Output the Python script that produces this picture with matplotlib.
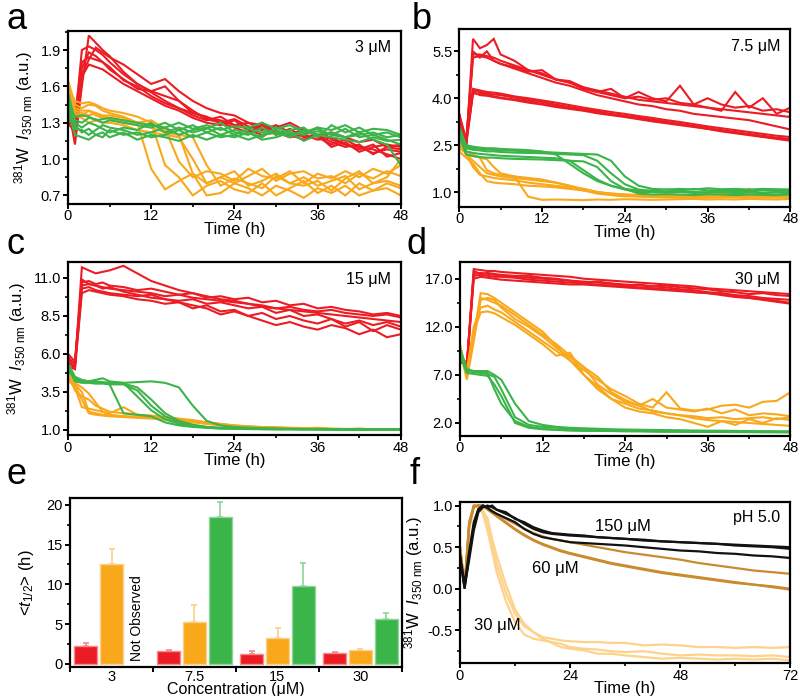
import matplotlib
matplotlib.use("Agg")
import matplotlib.pyplot as plt
from matplotlib.ticker import MultipleLocator, AutoMinorLocator, FixedLocator
import numpy as np

plt.rcParams['font.family'] = ['Liberation Sans', 'DejaVu Sans']
plt.rcParams['mathtext.fontset'] = 'custom'
plt.rcParams['mathtext.rm'] = 'Liberation Sans'
plt.rcParams['mathtext.it'] = 'Liberation Sans:italic'

RED = '#ec1c24'
ORANGE = '#f9a81b'
GREEN = '#3bb44a'

# time grid (h) for panels a-d
T = [0, 1, 2, 3, 4, 5, 6, 8, 10, 12, 14, 16, 18, 20, 22, 24, 26, 28, 30, 32, 34, 36, 38, 40, 42, 44, 46, 48]

# ---- panel a, 3 uM ----
a_red = [
    [1.45,1.12,1.60,2.02,1.96,1.90,1.85,1.72,1.62,1.55,1.48,1.42,1.36,1.32,1.35,1.28,1.25,1.30,1.22,1.20,1.25,1.18,1.12,1.16,1.10,1.08,1.04,1.00],
    [1.40,1.30,1.90,1.93,1.90,1.86,1.80,1.70,1.62,1.56,1.52,1.48,1.40,1.33,1.30,1.33,1.27,1.24,1.28,1.22,1.20,1.16,1.18,1.12,1.10,1.05,1.08,1.06],
    [1.35,1.25,1.75,1.88,1.85,1.80,1.74,1.66,1.58,1.56,1.60,1.48,1.38,1.35,1.30,1.26,1.22,1.28,1.20,1.25,1.18,1.20,1.14,1.10,1.12,1.04,1.10,1.08],
    [1.30,1.22,1.68,1.78,1.76,1.74,1.70,1.62,1.56,1.50,1.44,1.40,1.34,1.30,1.28,1.32,1.24,1.20,1.22,1.18,1.20,1.26,1.16,1.12,1.08,1.12,1.02,1.05],
    [1.28,1.35,1.80,1.84,1.82,1.80,1.76,1.65,1.60,1.52,1.46,1.42,1.38,1.34,1.32,1.28,1.30,1.25,1.22,1.20,1.16,1.20,1.10,1.14,1.06,1.10,1.12,1.10],
    [1.38,1.28,1.70,1.82,1.92,1.88,1.84,1.78,1.70,1.62,1.66,1.56,1.48,1.42,1.38,1.36,1.30,1.28,1.26,1.30,1.24,1.20,1.22,1.18,1.14,1.16,1.10,1.12],
]
a_orange = [
    [1.65,1.45,1.42,1.45,1.44,1.40,1.38,1.35,1.30,0.92,0.75,0.82,0.88,0.80,0.85,0.90,0.78,0.82,0.88,0.80,0.85,0.78,0.82,0.86,0.75,0.80,0.82,0.78],
    [1.60,1.48,1.46,1.47,1.45,1.42,1.40,1.38,1.35,1.30,0.95,0.85,0.70,0.78,0.82,0.75,0.72,0.80,0.70,0.76,0.82,0.72,0.78,0.70,0.80,0.74,0.76,0.70],
    [1.58,1.40,1.38,1.36,1.38,1.35,1.34,1.32,1.30,1.28,1.25,0.98,0.85,0.90,0.88,0.82,0.92,0.86,0.84,0.90,0.80,0.88,0.84,0.90,0.85,0.92,0.88,0.95],
    [1.55,1.42,1.40,1.40,1.36,1.34,1.33,1.30,1.28,1.26,1.22,1.20,0.88,0.70,0.72,0.80,0.76,0.70,0.78,0.74,0.68,0.76,0.72,0.78,0.70,0.74,0.80,0.76],
    [1.62,1.36,1.34,1.30,1.32,1.30,1.30,1.28,1.24,1.22,1.20,1.18,1.00,0.80,0.85,0.80,0.86,0.92,0.82,0.88,0.90,0.84,0.86,0.80,0.88,0.84,0.90,0.86],
    [1.50,1.38,1.36,1.40,1.38,1.36,1.36,1.34,1.30,1.32,1.25,1.20,1.18,0.95,0.78,0.84,0.80,0.76,0.86,0.80,0.78,0.82,0.74,0.84,0.90,0.80,0.85,1.00],
]
a_green = [
    [1.55,1.32,1.30,1.34,1.33,1.30,1.32,1.30,1.28,1.26,1.30,1.24,1.28,1.22,1.26,1.20,1.25,1.22,1.24,1.20,1.22,1.25,1.20,1.18,1.22,1.16,1.12,0.95],
    [1.50,1.28,1.22,1.25,1.20,1.18,1.24,1.20,1.22,1.18,1.20,1.24,1.18,1.22,1.18,1.20,1.16,1.20,1.22,1.18,1.24,1.20,1.22,1.18,1.20,1.22,1.18,1.20],
    [1.45,1.35,1.36,1.35,1.32,1.33,1.34,1.32,1.30,1.28,1.26,1.30,1.25,1.28,1.24,1.27,1.26,1.30,1.25,1.28,1.22,1.26,1.24,1.28,1.22,1.25,1.24,1.20],
    [1.40,1.20,1.18,1.16,1.20,1.22,1.18,1.22,1.16,1.20,1.18,1.15,1.20,1.16,1.20,1.18,1.22,1.16,1.18,1.22,1.15,1.20,1.18,1.16,1.14,1.18,1.15,1.16],
    [1.52,1.30,1.26,1.30,1.28,1.25,1.22,1.26,1.24,1.30,1.22,1.26,1.22,1.25,1.30,1.22,1.20,1.26,1.20,1.24,1.26,1.18,1.28,1.22,1.26,1.20,1.22,1.18],
    [1.46,1.25,1.24,1.20,1.24,1.28,1.26,1.24,1.20,1.22,1.26,1.20,1.24,1.26,1.20,1.24,1.22,1.18,1.26,1.22,1.20,1.23,1.20,1.25,1.18,1.20,1.16,1.12],
]

# ---- panel b, 7.5 uM ----
b_red = [
    [3.5,2.4,5.9,5.6,5.7,5.9,5.4,5.2,4.9,4.8,4.6,4.5,4.3,4.2,4.1,4.0,4.2,4.0,3.9,4.4,3.8,3.7,3.6,4.2,3.7,4.0,3.5,3.7],
    [3.4,2.6,5.4,5.4,5.35,5.3,5.2,5.05,4.9,4.75,4.6,4.5,4.35,4.25,4.15,4.05,3.95,3.9,3.85,3.8,3.75,3.7,3.65,3.6,3.55,3.5,3.45,3.4],
    [3.3,2.5,5.3,5.35,5.3,5.2,5.1,4.95,4.8,4.65,4.5,4.4,4.25,4.1,4.0,3.9,3.8,3.75,3.65,3.6,3.5,3.45,3.4,3.35,3.3,3.2,3.1,3.0],
    [3.45,2.45,5.5,5.3,5.5,5.2,5.1,5.0,4.85,4.9,4.6,4.55,4.35,4.2,4.3,4.0,4.05,3.95,4.0,3.85,3.8,4.0,3.8,3.7,3.75,3.6,3.65,3.55],
    [3.4,2.6,4.25,4.2,4.15,4.12,4.1,4.02,3.95,3.88,3.8,3.72,3.65,3.58,3.5,3.44,3.38,3.32,3.25,3.18,3.12,3.05,2.98,2.92,2.86,2.8,2.74,2.7],
    [3.3,2.5,4.15,4.15,4.1,4.06,4.02,3.96,3.9,3.82,3.76,3.68,3.62,3.55,3.48,3.42,3.35,3.28,3.22,3.16,3.1,3.02,2.96,2.9,2.84,2.78,2.72,2.66],
    [3.5,2.7,4.3,4.25,4.2,4.18,4.15,4.06,4.0,3.93,3.86,3.78,3.7,3.63,3.56,3.5,3.43,3.37,3.3,3.24,3.17,3.1,3.04,2.98,2.92,2.86,2.8,2.76],
    [3.35,2.55,4.2,4.1,4.08,4.04,4.0,3.94,3.86,3.8,3.72,3.66,3.6,3.52,3.46,3.4,3.33,3.26,3.2,3.14,3.08,3.02,2.94,2.88,2.82,2.76,2.7,2.64],
]
b_orange = [
    [2.8,2.2,2.0,1.8,1.6,1.55,1.5,1.45,1.4,1.35,1.3,1.2,1.1,1.0,0.95,0.92,0.9,0.9,0.88,0.9,0.88,0.9,0.87,0.88,0.9,0.86,0.88,0.85],
    [2.5,2.3,2.2,2.1,1.7,1.6,1.55,1.5,1.45,1.4,1.3,1.2,1.05,0.95,0.9,0.86,0.88,0.85,0.86,0.84,0.85,0.86,0.84,0.85,0.84,0.86,0.85,0.84],
    [2.3,2.1,1.9,1.6,1.35,1.3,1.28,1.25,1.2,1.18,1.15,1.1,1.05,1.0,0.95,0.92,0.9,0.88,0.9,0.87,0.9,0.88,0.95,0.9,1.1,0.92,0.9,0.95],
    [2.6,2.2,2.15,2.1,2.05,1.8,1.6,1.5,0.85,0.75,0.76,0.75,0.74,0.76,0.75,0.77,0.76,0.75,0.76,0.77,0.78,0.76,0.77,0.76,0.78,0.77,0.76,0.78],
    [2.4,2.25,1.8,1.55,1.5,1.45,1.42,1.38,1.3,1.25,1.2,1.15,1.1,1.0,0.92,0.88,0.85,0.84,0.83,0.82,0.83,0.82,0.84,0.83,0.82,0.83,0.82,0.82],
]
b_green = [
    [3.1,2.5,2.45,2.42,2.4,2.4,2.38,2.36,2.34,2.3,2.2,1.9,1.6,1.35,1.2,1.1,1.05,1.05,1.08,1.05,1.1,1.05,1.06,1.04,1.05,1.06,1.05,1.04],
    [3.0,2.3,2.25,2.22,2.2,2.18,2.16,2.14,2.12,2.1,2.08,2.0,1.7,1.4,1.2,1.08,1.0,1.0,0.98,1.0,0.97,0.98,1.0,0.96,0.98,0.97,0.98,0.96],
    [2.9,2.4,2.35,2.33,2.3,2.3,2.28,2.26,2.25,2.24,2.22,2.2,2.18,2.0,1.6,1.25,1.08,1.02,1.0,1.02,1.0,0.99,1.02,1.0,1.01,0.98,1.0,0.99],
    [2.8,2.2,2.15,2.12,2.1,2.1,2.08,2.06,2.05,2.04,2.02,2.0,1.98,1.8,1.35,1.1,0.95,0.92,0.93,0.92,0.9,0.93,0.92,0.9,0.92,0.91,0.9,0.92],
    [3.0,2.45,2.4,2.38,2.36,2.35,2.34,2.32,2.3,2.28,2.26,2.24,2.22,2.2,2.0,1.5,1.2,1.1,1.08,1.1,1.08,1.12,1.09,1.1,1.08,1.1,1.09,1.08],
]

# ---- panel c, 15 uM ----
c_red = [
    [5.5,5.2,11.7,11.5,11.3,11.4,11.5,11.8,11.3,10.8,10.5,10.2,10.0,9.8,9.6,9.5,9.3,9.1,9.0,8.9,8.8,8.7,8.6,8.5,8.4,8.3,8.2,8.1],
    [6.0,5.5,10.5,10.6,10.5,10.4,10.3,10.2,10.1,10.0,9.8,9.9,9.7,9.6,9.5,9.4,9.3,9.2,9.0,9.1,8.9,8.8,8.9,8.7,8.6,8.5,8.6,8.4],
    [5.2,5.0,10.0,10.2,10.1,10.0,9.9,9.8,9.6,9.5,9.3,9.4,9.0,9.2,8.8,8.9,8.5,8.7,8.3,8.5,8.2,8.0,8.3,7.8,8.1,7.5,7.9,7.6],
    [5.8,5.3,10.7,10.8,10.6,10.7,10.5,10.4,10.2,10.3,10.1,9.9,10.0,9.7,9.8,9.6,9.7,9.4,9.5,9.2,9.3,9.0,9.1,8.9,8.8,8.6,8.7,8.5],
    [5.4,5.1,10.3,10.4,10.2,10.1,10.0,9.9,9.8,9.9,9.6,9.5,9.6,9.3,9.4,9.2,9.0,9.1,8.7,8.9,8.5,8.6,8.3,8.0,8.2,7.9,8.1,7.8],
    [5.6,5.4,10.9,10.6,10.5,10.3,10.4,10.1,9.9,9.7,9.6,9.4,9.2,9.0,8.6,8.8,8.5,8.2,7.9,8.1,7.8,7.6,7.9,7.7,7.3,7.6,7.1,7.3],
]
c_orange = [
    [4.6,4.0,3.5,2.2,2.1,2.0,1.95,1.9,1.85,1.8,1.7,1.6,1.5,1.4,1.3,1.25,1.2,1.15,1.12,1.1,1.08,1.06,1.05,1.04,1.03,1.02,1.01,1.0],
    [4.3,3.8,2.5,2.4,2.3,2.2,2.1,2.5,2.0,1.9,1.8,1.7,1.6,1.5,1.35,1.25,1.2,1.18,1.15,1.12,1.1,1.08,1.06,1.05,1.1,1.04,1.02,1.0],
    [4.8,3.6,3.2,3.0,2.6,2.4,2.2,2.1,2.0,1.95,1.85,1.75,1.65,1.5,1.4,1.3,1.22,1.18,1.14,1.12,1.1,1.08,1.06,1.05,1.04,1.03,1.02,1.01],
    [4.4,3.9,3.0,2.1,2.0,1.95,1.9,1.85,1.8,1.75,1.7,1.62,1.55,1.45,1.35,1.28,1.22,1.18,1.15,1.12,1.1,1.15,1.08,1.06,1.05,1.04,1.03,1.02],
    [4.5,4.1,3.8,3.4,2.8,2.2,2.0,1.9,1.85,1.8,1.75,1.7,1.6,1.5,1.4,1.3,1.25,1.2,1.18,1.15,1.12,1.1,1.08,1.07,1.06,1.05,1.04,1.03],
]
c_green = [
    [5.3,4.4,4.2,4.15,4.15,4.1,4.0,2.1,2.0,1.9,1.5,1.3,1.2,1.15,1.1,1.1,1.08,1.07,1.06,1.05,1.06,1.05,1.04,1.05,1.04,1.03,1.04,1.03],
    [5.2,4.3,4.2,4.2,4.3,4.4,4.2,4.1,3.2,2.3,1.7,1.4,1.25,1.15,1.1,1.08,1.06,1.05,1.04,1.05,1.04,1.03,1.04,1.03,1.02,1.03,1.02,1.03],
    [5.0,4.2,4.1,4.1,4.05,4.05,4.0,4.0,3.6,2.6,1.9,1.5,1.3,1.2,1.12,1.1,1.08,1.06,1.05,1.06,1.04,1.05,1.04,1.03,1.04,1.05,1.03,1.04],
    [5.4,4.5,4.3,4.2,4.2,4.15,4.1,4.05,3.8,3.0,2.1,1.6,1.35,1.2,1.15,1.12,1.1,1.08,1.07,1.06,1.05,1.06,1.05,1.04,1.05,1.04,1.05,1.04],
    [5.1,4.3,4.2,4.2,4.15,4.1,4.1,4.1,4.15,4.2,4.1,3.8,2.6,1.6,1.3,1.2,1.15,1.12,1.1,1.08,1.07,1.06,1.05,1.06,1.05,1.04,1.05,1.04],
]

# ---- panel d, 30 uM ----
d_red = [
    [8.5,8.0,18.0,17.9,17.8,17.8,17.7,17.6,17.5,17.4,17.3,17.2,17.0,16.9,16.8,16.7,16.6,16.5,16.4,16.3,16.2,16.0,15.9,15.8,15.7,15.6,15.5,15.4],
    [8.8,7.8,17.5,17.6,17.5,17.4,17.3,17.2,17.1,17.0,16.9,16.8,16.7,16.6,16.5,16.4,16.3,16.2,16.1,15.9,15.8,15.6,15.5,15.3,15.2,15.0,14.9,14.8],
    [9.0,8.2,17.0,17.2,17.1,17.0,16.9,16.8,16.7,16.6,16.5,16.4,16.4,16.3,16.2,16.1,16.0,15.9,15.8,15.7,15.6,15.5,15.3,15.1,15.0,14.8,14.6,14.4],
    [8.3,8.1,17.8,17.5,17.6,17.5,17.4,17.3,17.3,17.1,17.0,16.8,16.6,16.7,16.5,16.3,16.4,16.2,16.3,16.1,16.0,15.9,15.7,15.6,15.4,15.5,15.3,15.2],
    [8.6,7.9,17.3,17.4,17.3,17.2,17.2,17.1,16.9,16.8,16.7,16.6,16.5,16.4,16.3,16.2,16.1,16.0,15.9,15.8,15.6,15.5,15.4,15.2,15.0,14.9,14.7,14.5],
]
d_orange = [
    [10.0,7.0,11.0,15.5,15.4,15.0,14.5,13.5,12.5,11.5,10.0,8.5,7.0,5.5,4.5,4.0,3.5,3.3,3.0,2.8,2.5,2.3,2.2,2.1,2.0,1.9,1.8,1.7],
    [9.5,6.5,10.5,14.8,15.0,14.8,14.0,12.8,12.0,11.0,9.8,8.8,7.8,6.0,5.0,4.2,3.8,4.5,3.6,3.4,3.2,3.5,3.0,3.4,2.8,3.0,2.9,2.7],
    [9.8,7.5,12.0,14.0,14.2,13.8,13.5,12.5,11.5,10.5,9.5,8.5,7.5,6.5,5.5,4.8,4.0,3.6,5.2,3.5,3.3,3.4,3.8,3.9,3.6,4.2,4.3,5.2],
    [9.3,7.2,11.5,13.5,13.6,13.4,13.0,12.2,11.2,10.2,9.0,9.3,7.0,5.8,4.5,3.6,3.2,3.0,2.6,2.4,2.0,1.6,2.2,1.8,2.4,2.0,2.5,2.3],
    [10.2,6.8,11.2,15.0,14.8,14.5,14.2,13.2,12.2,11.2,10.2,9.0,7.8,6.8,5.2,4.4,3.8,3.2,3.0,2.8,2.7,2.5,2.6,2.4,2.5,2.6,2.4,2.6],
]
d_green = [
    [9.5,7.5,7.3,7.3,7.2,5.5,4.0,2.2,1.6,1.4,1.3,1.25,1.2,1.2,1.18,1.15,1.15,1.12,1.1,1.1,1.1,1.08,1.08,1.06,1.06,1.05,1.05,1.04],
    [9.2,7.4,7.3,7.2,7.1,6.8,5.5,2.6,1.8,1.6,1.5,1.4,1.35,1.3,1.28,1.25,1.22,1.2,1.2,1.18,1.16,1.15,1.14,1.12,1.12,1.1,1.1,1.1],
    [9.8,7.6,7.4,7.4,7.4,7.0,6.5,4.0,2.2,1.8,1.6,1.5,1.45,1.4,1.35,1.32,1.3,1.28,1.26,1.24,1.22,1.2,1.2,1.18,1.16,1.15,1.14,1.12],
    [9.0,7.2,7.1,7.0,6.9,6.0,4.8,2.0,1.5,1.35,1.28,1.22,1.2,1.18,1.16,1.15,1.14,1.12,1.1,1.1,1.08,1.08,1.06,1.06,1.05,1.05,1.04,1.04],
]

# ---- panel e, half times ----
conc_labels = ['3', '7.5', '15', '30']
thalf_red = [2.3, 1.6, 1.2, 1.4]
thalf_red_err = [0.3, 0.15, 0.4, 0.15]
thalf_orange = [12.5, 5.3, 3.3, 1.7]
thalf_orange_err = [2.0, 2.1, 1.2, 0.15]
thalf_green = [np.nan, 18.5, 9.8, 5.7]
thalf_green_err = [0.0, 1.8, 2.9, 0.7]

# ---- panel f, pH 5.0 ----
TF = [0, 1, 2, 3, 4, 5, 6, 7, 8, 10, 12, 14, 16, 18, 20, 22, 24, 27, 30, 33, 36, 40, 44, 48, 52, 56, 60, 64, 68, 72]
f_150 = [
    [0.40,0.00,0.40,0.75,0.95,1.0,0.98,1.0,0.95,0.90,0.85,0.78,0.72,0.68,0.66,0.65,0.64,0.63,0.62,0.61,0.60,0.58,0.57,0.56,0.55,0.54,0.53,0.52,0.51,0.50],
    [0.35,0.02,0.35,0.70,0.92,0.98,1.0,0.98,0.95,0.92,0.84,0.80,0.74,0.70,0.67,0.66,0.65,0.64,0.62,0.61,0.60,0.59,0.57,0.56,0.55,0.54,0.52,0.51,0.50,0.48],
    [0.42,0.05,0.45,0.80,0.96,1.0,0.97,0.93,0.90,0.85,0.80,0.72,0.66,0.62,0.60,0.58,0.56,0.55,0.54,0.53,0.52,0.50,0.48,0.46,0.45,0.43,0.42,0.40,0.39,0.37],
]
f_60 = [
    [0.50,0.02,0.80,1.0,1.0,1.0,0.97,0.94,0.90,0.84,0.78,0.72,0.67,0.63,0.60,0.58,0.56,0.53,0.50,0.47,0.44,0.41,0.38,0.35,0.31,0.28,0.25,0.22,0.20,0.18],
    [0.45,0.0,0.75,0.98,1.0,1.0,0.96,0.92,0.88,0.80,0.72,0.65,0.59,0.54,0.50,0.46,0.43,0.39,0.35,0.31,0.28,0.24,0.20,0.17,0.14,0.11,0.08,0.05,0.03,0.0],
    [0.50,0.05,0.78,0.99,1.0,0.99,0.95,0.91,0.87,0.79,0.71,0.64,0.58,0.53,0.49,0.45,0.42,0.38,0.34,0.30,0.27,0.23,0.19,0.16,0.13,0.10,0.07,0.05,0.02,-0.01],
]
f_30 = [
    [0.50,0.0,0.75,1.0,1.0,0.95,0.80,0.55,0.30,-0.05,-0.30,-0.45,-0.52,-0.58,-0.60,-0.62,-0.63,-0.64,-0.64,-0.65,-0.65,-0.68,-0.67,-0.68,-0.70,-0.70,-0.71,-0.70,-0.71,-0.70],
    [0.48,0.02,0.70,0.98,1.0,0.90,0.70,0.45,0.20,-0.15,-0.40,-0.55,-0.60,-0.62,-0.64,-0.66,-0.70,-0.72,-0.73,-0.75,-0.76,-0.75,-0.78,-0.80,-0.79,-0.80,-0.80,-0.81,-0.80,-0.82],
    [0.52,0.04,0.80,1.0,0.98,0.92,0.85,0.60,0.40,0.05,-0.25,-0.42,-0.52,-0.60,-0.65,-0.70,-0.72,-0.74,-0.78,-0.78,-0.80,-0.82,-0.84,-0.83,-0.84,-0.85,-0.84,-0.85,-0.84,-0.86],
]

YLAB = r'$^{381}$W  $I_{\rm 350\ nm}$ (a.u.)'


def style(ax, xmax, xmaj, ylim, yticks, fmt='%.1f'):
    for s in ax.spines.values():
        s.set_linewidth(1.6)
    ax.set_xlim(0, xmax)
    ax.set_ylim(*ylim)
    ax.xaxis.set_major_locator(MultipleLocator(xmaj))
    ax.xaxis.set_minor_locator(MultipleLocator(xmaj / 2))
    ax.set_yticks(yticks)
    ax.set_yticklabels([fmt % v for v in yticks])
    ax.yaxis.set_minor_locator(AutoMinorLocator(2))
    ax.tick_params(which='major', direction='out', length=3.5, width=1.4, labelsize=10.5, pad=1.5)
    ax.tick_params(axis='x', which='major', pad=0.5)
    ax.tick_params(which='minor', direction='out', length=2.5, width=1.2)
    ax.set_xlabel('Time (h)', fontsize=12, labelpad=-1)


def traces(ax, t, groups, lw=1.5):
    for data, col in groups:
        for y in data:
            ax.plot(t, y, color=col, lw=lw, solid_joinstyle='miter')


fig = plt.figure(figsize=(8, 6.96), dpi=100)

axa = fig.add_axes([0.085, 0.707, 0.416, 0.249])
traces(axa, T, [(a_red, RED), (a_orange, ORANGE), (a_green, GREEN)])
style(axa, 48, 12, (0.63, 2.06), [0.7, 1.0, 1.3, 1.6, 1.9])
axa.set_ylabel(YLAB, fontsize=12, labelpad=4)
axa.text(0.97, 0.9, '3 μM', transform=axa.transAxes, ha='right', va='center', fontsize=11.5)

axb = fig.add_axes([0.574, 0.703, 0.414, 0.256])
traces(axb, T, [(b_red, RED), (b_orange, ORANGE), (b_green, GREEN)])
style(axb, 48, 12, (0.53, 6.23), [1.0, 2.5, 4.0, 5.5])
axb.text(0.97, 0.9, '7.5 μM', transform=axb.transAxes, ha='right', va='center', fontsize=11.5)

axc = fig.add_axes([0.085, 0.375, 0.416, 0.249])
traces(axc, T, [(c_red, RED), (c_orange, ORANGE), (c_green, GREEN)])
style(axc, 48, 12, (0.67, 12.07), [1.0, 3.5, 6.0, 8.5, 11.0])
axc.set_ylabel(YLAB, fontsize=12, labelpad=4)
axc.text(0.97, 0.9, '15 μM', transform=axc.transAxes, ha='right', va='center', fontsize=11.5)

axd = fig.add_axes([0.575, 0.374, 0.413, 0.25])
traces(axd, T, [(d_red, RED), (d_orange, ORANGE), (d_green, GREEN)])
style(axd, 48, 12, (0.68, 18.77), [2.0, 7.0, 12.0, 17.0])
axd.text(0.97, 0.9, '30 μM', transform=axd.transAxes, ha='right', va='center', fontsize=11.5)

# bar chart
axe = fig.add_axes([0.0875, 0.042, 0.415, 0.243])
x = np.arange(len(conc_labels)) + 0.5
w = 0.28
for vals, errs, col, edge, off in [(thalf_red, thalf_red_err, RED, '#f48a8e', -0.31),
                                   (thalf_orange, thalf_orange_err, ORANGE, '#fbd08a', 0.0),
                                   (thalf_green, thalf_green_err, GREEN, '#8fd49a', 0.31)]:
    axe.bar(x + off, vals, w, color=col, edgecolor=edge, lw=1)
    axe.errorbar(x + off, vals, yerr=[np.zeros(len(vals)), errs], fmt='none',
                 ecolor=edge, elinewidth=1.2, capsize=2, capthick=1.2)
axe.text(x[0] + 0.31, 0.4, 'Not Observed', rotation=90, ha='center', va='bottom', fontsize=10)
for s in axe.spines.values():
    s.set_linewidth(1.6)
axe.set_xlim(0, 4)
axe.set_ylim(-0.35, 20.9)
axe.xaxis.set_major_locator(FixedLocator([0, 1, 2, 3, 4]))
axe.xaxis.set_major_formatter(plt.NullFormatter())
axe.xaxis.set_minor_locator(FixedLocator(list(x)))
axe.set_xticklabels(conc_labels, minor=True)
axe.set_yticks([0, 5, 10, 15, 20])
axe.yaxis.set_minor_locator(AutoMinorLocator(2))
axe.tick_params(which='major', direction='out', length=3.5, width=1.4, labelsize=10.5, pad=1.5)
axe.tick_params(axis='y', which='minor', direction='out', length=2.5, width=1.2)
axe.tick_params(axis='x', which='minor', length=0, labelsize=10.5, pad=2)
axe.set_xlabel('Concentration (μM)', fontsize=11.5, labelpad=-1)
axe.set_ylabel(r'<$t_{1/2}$> (h)', fontsize=12, labelpad=8)

axf = fig.add_axes([0.575, 0.047, 0.413, 0.232])
traces(axf, TF, [(f_30, '#fdd28a'), (f_60, '#c98b2d'), (f_150, '#121212')], lw=1.6)
style(axf, 72, 24, (-0.895, 1.045), [-0.5, 0.0, 0.5, 1.0])
axf.set_ylabel(YLAB, fontsize=12, labelpad=2)
axf.text(0.97, 0.9, 'pH 5.0', transform=axf.transAxes, ha='right', va='center', fontsize=11.5)
axf.text(35.5, 0.75, '150 μM', ha='center', va='center', fontsize=12)
axf.text(20.8, 0.24, '60 μM', ha='center', va='center', fontsize=12)
axf.text(8.2, -0.44, '30 μM', ha='center', va='center', fontsize=12)

for lab, xx, yy in [('a', 0.008, 0.972), ('b', 0.515, 0.972), ('c', 0.008, 0.648),
                    ('d', 0.508, 0.648), ('e', 0.008, 0.318), ('f', 0.512, 0.318)]:
    fig.text(xx, yy, lab, fontsize=26, ha='left', va='center')

fig.savefig('out.png', dpi=100)
